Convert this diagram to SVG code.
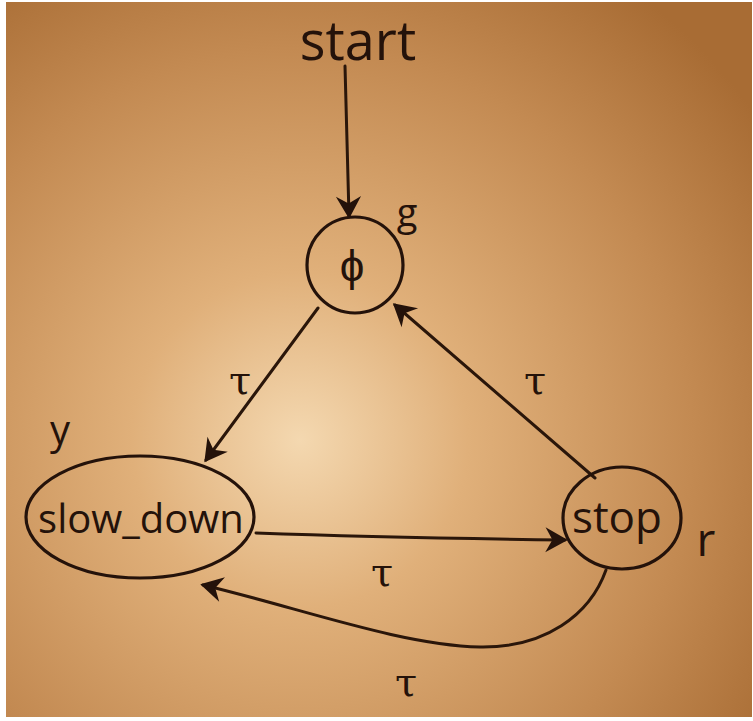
<svg xmlns="http://www.w3.org/2000/svg" width="753" height="721" viewBox="0 0 753 721">
<style>
.ln{fill:none;stroke:#2a160a;stroke-width:3;stroke-linecap:round;stroke-linejoin:round}
.nd{fill:none;stroke:#24120a;stroke-width:3.2}
.tx{font-family:"Open Sans","Liberation Sans",sans-serif;fill:#24120a;text-anchor:middle}
.lb{font-family:"DejaVu Serif","Liberation Serif",serif;fill:#24120a;text-anchor:middle;font-size:40px}
</style>
<defs>
<radialGradient id="bg" cx="300" cy="440" r="560" gradientUnits="userSpaceOnUse">
<stop offset="0" stop-color="#f4d8b0"/>
<stop offset="0.3" stop-color="#e0b07a"/>
<stop offset="0.7" stop-color="#c38a52"/>
<stop offset="1" stop-color="#a86c34"/>
</radialGradient>
<marker id="ahb" viewBox="0 0 20 20" refX="16" refY="10" markerWidth="28" markerHeight="28" markerUnits="userSpaceOnUse" orient="auto">
<path d="M2,1 L18,10 L2,19 L7,10 Z" fill="#24120a"/>
</marker>
</defs>
<rect width="753" height="721" fill="#ffffff"/>
<rect x="6" y="2" width="746" height="715" fill="url(#bg)"/>

<g id="edges">
<path class="ln" d="M345,66 L349,216" marker-end="url(#ahb)"/>
<path class="ln" d="M318,308 L206,460" marker-end="url(#ahb)"/>
<path class="ln" d="M595,478 L395,305" marker-end="url(#ahb)"/>
<path class="ln" d="M256,533 C340,536 420,538 565,540" marker-end="url(#ahb)"/>
<path class="ln" d="M606,570 C590,615 545,648 480,647 C400,645 300,608 203,585" marker-end="url(#ahb)"/>
<text class="lb" x="240" y="394">τ</text>
<text class="lb" x="535" y="394">τ</text>
<text class="lb" x="382" y="586">τ</text>
<text class="lb" x="406" y="696">τ</text>
</g>

<g id="start">
<text class="tx" x="358" y="60" font-size="54">start</text>
</g>

<g id="g">
<circle class="nd" cx="355" cy="265" r="48"/>
<text class="tx" x="352" y="281" font-size="44">ϕ</text>
<text class="tx" x="407" y="226" font-size="38">g</text>
</g>

<g id="slow_down">
<ellipse class="nd" cx="140" cy="517" rx="114" ry="61"/>
<text class="tx" x="141" y="533" font-size="40">slow_down</text>
<text class="tx" x="60" y="444" font-size="40">y</text>
</g>

<g id="stop">
<ellipse class="nd" cx="622" cy="518" rx="59" ry="51"/>
<text class="tx" x="617" y="533" font-size="44">stop</text>
<text class="tx" x="706" y="556" font-size="46">r</text>
</g>
</svg>
